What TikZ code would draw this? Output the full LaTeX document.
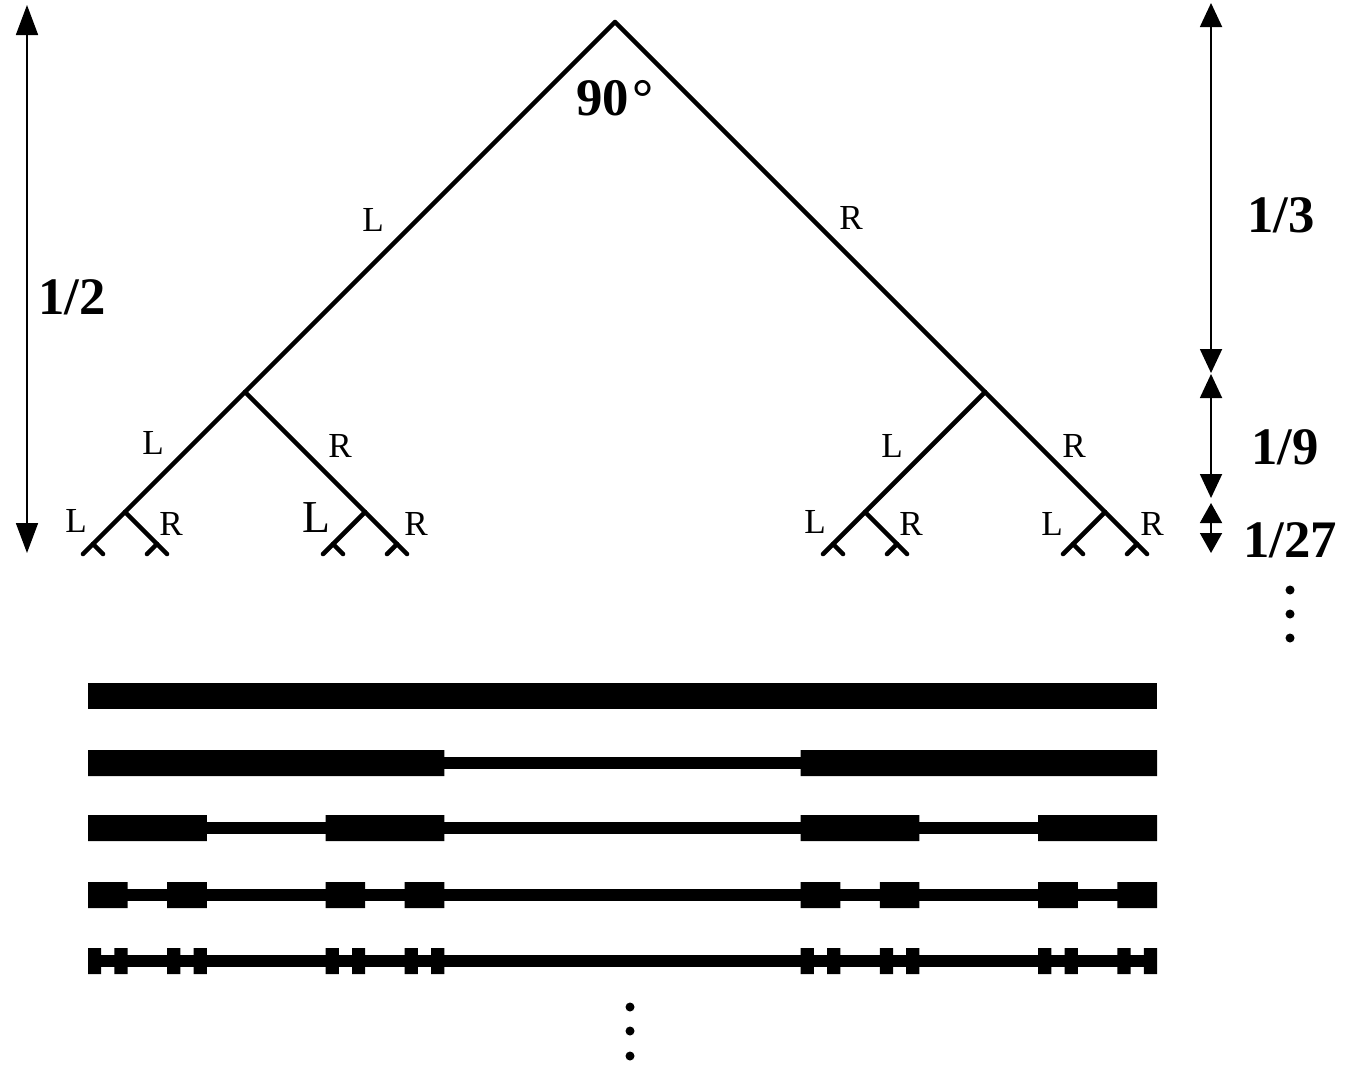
\documentclass[tikz,border=0pt]{standalone}
\usepackage{fontspec}
\setmainfont{Liberation Serif}
\usepackage{tikz}
\usetikzlibrary{arrows.meta}

\tikzset{
	branch/.style = {line width=1.3pt, line cap=round, line join=round},
	dimline/.style = {line width=.5pt, {Triangle[width=2.2mm,length=2.4mm]}-{Triangle[width=2.2mm,length=2.4mm]}},
	bigdim/.style = {line width=.5pt, {Triangle[width=2.2mm,length=3mm]}-{Triangle[width=2.2mm,length=3mm]}},
	smalldim/.style = {line width=.5pt, {Triangle[width=2.2mm,length=2mm]}-{Triangle[width=2.2mm,length=2mm]}},
	side/.style = {inner sep=0pt, font=\fontsize{10}{12}\selectfont},
	frac/.style = {inner sep=0pt, font=\fontsize{15}{18}\selectfont\bfseries}
}

\begin{document}
\begin{tikzpicture}[x=.1mm, y=-.1mm]
	\useasboundingbox (0,0) rectangle (1351,1067);

	% tree
	\coordinate (root) at (615,22);
	\coordinate (l) at (245,392);
	\coordinate (r) at (985,392);
	\coordinate (ll) at (125,512);
	\coordinate (lr) at (365,512);
	\coordinate (rl) at (865,512);
	\coordinate (rr) at (1105,512);
	\coordinate (lll) at (93,544);
	\coordinate (llr) at (157,544);
	\coordinate (lrl) at (333,544);
	\coordinate (lrr) at (397,544);
	\coordinate (rll) at (833,544);
	\coordinate (rlr) at (897,544);
	\coordinate (rrl) at (1073,544);
	\coordinate (rrr) at (1137,544);
	\draw [branch] (l) -- (root) -- (r);
	\draw [branch] (ll) -- (l) -- (lr);
	\draw [branch] (rl) -- (r) -- (rr);
	\draw [branch] (lll) -- (ll) -- (llr);
	\draw [branch] (lrl) -- (lr) -- (lrr);
	\draw [branch] (rll) -- (rl) -- (rlr);
	\draw [branch] (rrl) -- (rr) -- (rrr);
	\draw [branch] (lll) -- ++(-10,10) (lll) -- ++(10,10);
	\draw [branch] (llr) -- ++(-10,10) (llr) -- ++(10,10);
	\draw [branch] (lrl) -- ++(-10,10) (lrl) -- ++(10,10);
	\draw [branch] (lrr) -- ++(-10,10) (lrr) -- ++(10,10);
	\draw [branch] (rll) -- ++(-10,10) (rll) -- ++(10,10);
	\draw [branch] (rlr) -- ++(-10,10) (rlr) -- ++(10,10);
	\draw [branch] (rrl) -- ++(-10,10) (rrl) -- ++(10,10);
	\draw [branch] (rrr) -- ++(-10,10) (rrr) -- ++(10,10);

	\node [frac] (angle) at (615,98) {90\kern1pt°};
	\node [side] (tagL) at (373,220) {L};
	\node [side] (tagR) at (851,218) {R};
	\node [side] (tagLL) at (153,443) {L};
	\node [side] (tagLR) at (340,446) {R};
	\node [side] (tagRL) at (892,446) {L};
	\node [side] (tagRR) at (1074,446) {R};
	\node [side] (tagLLL) at (76,521) {L};
	\node [side] (tagLLR) at (171,524) {R};
	\node [side, font=\fontsize{13}{15}\selectfont] (tagLRL) at (316,518) {L};
	\node [side] (tagLRR) at (416,524) {R};
	\node [side] (tagRLL) at (815,522) {L};
	\node [side] (tagRLR) at (911,524) {R};
	\node [side] (tagRRL) at (1052,524) {L};
	\node [side] (tagRRR) at (1152,524) {R};

	% heights
	\coordinate (half0) at (27,5);
	\coordinate (half1) at (27,553);
	\coordinate (third0) at (1211,3);
	\coordinate (third1) at (1211,373);
	\coordinate (ninth0) at (1211,374);
	\coordinate (ninth1) at (1211,498);
	\coordinate (tw0) at (1211,503);
	\coordinate (tw1) at (1211,553);
	\draw [bigdim] (half0) -- (half1);
	\draw [dimline] (third0) -- (third1);
	\draw [dimline] (ninth0) -- (ninth1);
	\draw [smalldim] (tw0) -- (tw1);
	\node [frac] (half) at (72,297) {1/2};
	\node [frac] (third) at (1281,215) {1/3};
	\node [frac] (ninth) at (1285,447) {1/9};
	\node [frac] (tw) at (1290,540) {1/27};
	\fill (1290,590) circle [radius=4.5] (1290,614) circle [radius=4.5] (1290,638) circle [radius=4.5];

	% bars
	\fill (88,683) rectangle (1157,709);
	\fill (88,757) rectangle (1157,769);
	\fill (88,750) rectangle (444.3,776) (800.7,750) rectangle (1157,776);
	\fill (88,822) rectangle (1157,834);
	\fill (88,815) rectangle (206.8,841) (325.6,815) rectangle (444.3,841)
		(800.7,815) rectangle (919.4,841) (1038.2,815) rectangle (1157,841);
	\fill (88,889) rectangle (1157,901);
	\fill (88,882) rectangle (127.6,908) (167.2,882) rectangle (206.8,908)
		(325.6,882) rectangle (365.1,908) (404.7,882) rectangle (444.3,908)
		(800.7,882) rectangle (840.3,908) (879.9,882) rectangle (919.4,908)
		(1038.2,882) rectangle (1077.8,908) (1117.4,882) rectangle (1157,908);
	\fill (88,955) rectangle (1157,967);
	\fill (88,948) rectangle (101.2,974) (114.4,948) rectangle (127.6,974)
		(167.2,948) rectangle (180.4,974) (193.6,948) rectangle (206.8,974)
		(325.6,948) rectangle (338.8,974) (352,948) rectangle (365.1,974)
		(404.7,948) rectangle (417.9,974) (431.1,948) rectangle (444.3,974)
		(800.7,948) rectangle (813.9,974) (827.1,948) rectangle (840.3,974)
		(879.9,948) rectangle (893,974) (906.2,948) rectangle (919.4,974)
		(1038.2,948) rectangle (1051.4,974) (1064.6,948) rectangle (1077.8,974)
		(1117.4,948) rectangle (1130.6,974) (1143.8,948) rectangle (1157,974);
	\fill (630,1007) circle [radius=4.5] (630,1031) circle [radius=4.5] (630,1056) circle [radius=4.5];
\end{tikzpicture}
\end{document}
